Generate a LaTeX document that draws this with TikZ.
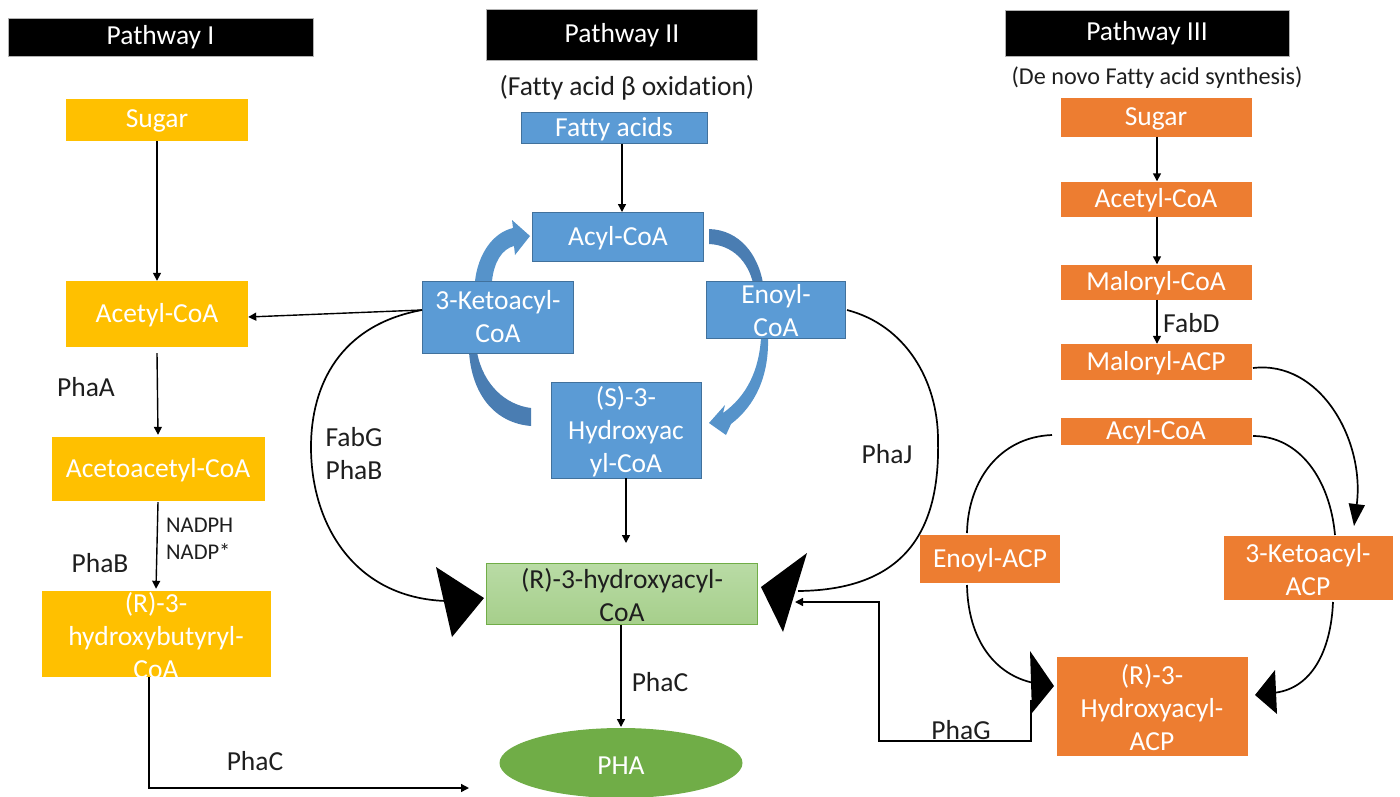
\documentclass[tikz,border=0pt]{standalone}
\usepackage{fontspec}
\setmainfont{Carlito}[Ligatures=NoCommon]
\usetikzlibrary{arrows.meta,shapes.geometric}
\definecolor{pyellow}{HTML}{FFC000}
\definecolor{pblue}{HTML}{5B9BD5}
\definecolor{pbluedark}{HTML}{41719C}
\definecolor{pband}{HTML}{4A7DB2}
\definecolor{porange}{HTML}{ED7D31}
\definecolor{pgreen}{HTML}{70AD47}
\definecolor{pgreentop}{HTML}{B9DBA5}
\definecolor{pgreenbot}{HTML}{A6CF8B}
\definecolor{ink}{HTML}{1E1E1E}
\begin{document}
\begin{tikzpicture}[x=1pt,y=-1pt,
  big/.style={font=\fontsize{27.5}{33}\selectfont},
  header/.style={fill=black, draw=gray!60, line width=0.8pt, minimum height=38pt, inner sep=0pt, text=white, big},
  ybox/.style={fill=pyellow, inner sep=0pt},
  bbox/.style={fill=pblue, draw=pbluedark, line width=0.8pt, inner sep=0pt},
  obox/.style={fill=porange, inner sep=0pt},
  wtext/.style={text=white, big, align=center, inner sep=0pt},
  enz/.style={text=ink, big, align=left, inner sep=0pt},
  conn/.style={draw=black, line width=1.4pt, -{Triangle[length=8pt,width=8pt]}},
  curve/.style={draw=black, line width=1.7pt},
  band/.style={fill=pband},
  bandlight/.style={fill=pblue!95!black}
]
\useasboundingbox (0,0) rectangle (1400,796);

% ---------- headers ----------
\node[header, minimum width=305pt] (h1) at (160.5,37.5) {Pathway I};
\node[header, minimum width=271pt, minimum height=51pt] (h2) at (622,35) {Pathway II};
\node[header, minimum width=284pt, minimum height=46pt] (h3) at (1147,33) {Pathway III};
\node[enz, align=center] (sub2) at (627,88) {(Fatty acid β oxidation)};
\node[enz, align=center, font=\fontsize{24.2}{29}\selectfont] (sub3) at (1157,78) {(De novo Fatty acid synthesis)};

% ---------- Pathway I ----------
\node[ybox, minimum width=182pt, minimum height=42pt] (sugarI) at (157,120) {};
\node[wtext] at (157,121) {Sugar};
\node[ybox, minimum width=182pt, minimum height=66pt] (acetylI) at (157,314) {};
\node[wtext] at (157,315) {Acetyl-CoA};
\node[ybox, minimum width=213pt, minimum height=64pt] (acetoI) at (158,469) {};
\node[wtext] at (158,470) {Acetoacetyl-CoA};
\node[ybox, minimum width=229pt, minimum height=86pt] (hbI) at (156,634) {};
\node[wtext] at (156,636) {(R)-3-\\hydroxybutyryl-\\CoA};

\draw[conn] (sugarI.south) -- (acetylI.north);
\draw[conn] ([yshift=-6pt]acetylI.south) -- ([yshift=2pt]acetoI.north);
\draw[conn] ([yshift=-1pt]acetoI.south) -- ([yshift=2pt]hbI.north);
\node[enz] (phaA) at (86,387) {PhaA};
\node[enz] (phaB1) at (100,563) {PhaB};
\node[enz, anchor=west, font=\fontsize{22.5}{27}\selectfont] (nadph) at (166,539) {NADPH\\NADP*};
\coordinate (phacI) at (469,788);
\draw[conn] ([xshift=-7pt]hbI.south) |- (phacI);
\node[enz] (phaC1) at (255,761) {PhaC};

% ---------- Pathway II : blue cycle bands ----------
% Keto -> Acyl (with head)
\path[bandlight] (475,281) .. controls (478,255) and (492,233) .. (513,228)
  -- (512,220) -- (530,236) -- (515,255) -- (514,246)
  .. controls (502,249) and (494,262) .. (492,281) -- cycle;
% Acyl -> Enoyl
\path[band] (709,229) .. controls (740,230) and (758,255) .. (763,283)
  -- (753,283) .. controls (748,262) and (733,245) .. (709,244) -- cycle;
% Enoyl -> (S)-3-Hydroxyacyl (with head)
\path[bandlight] (761,338) -- (768,338) .. controls (769,375) and (756,405) .. (731,424)
  -- (726,435) -- (709,423) -- (725,405) -- (723,413)
  .. controls (747,396) and (759,370) .. (761,338) -- cycle;
% (S)-3-Hydroxyacyl -> Keto
\path[band] (469,352) .. controls (472,395) and (495,423) .. (531,426)
  -- (531,408) .. controls (506,405) and (483,385) .. (477,352) -- cycle;

% ---------- Pathway II : boxes ----------
\node[bbox, minimum width=186pt, minimum height=31pt] (fatty) at (614,128) {};
\node[wtext] at (614,129) {Fatty acids};
\node[bbox, minimum width=171pt, minimum height=49pt] (acyl) at (618,237) {};
\node[wtext] at (618,238) {Acyl-CoA};
\node[bbox, minimum width=151pt, minimum height=72pt] (keto) at (498,317) {};
\node[wtext] at (keto) {3-Ketoacyl-\\CoA};
\node[bbox, minimum width=139pt, minimum height=57pt] (enoyl) at (776,310) {};
\node[wtext] at (776,311) {Enoyl-\\CoA};
\node[bbox, minimum width=150pt, minimum height=96pt] (shyd) at (626,430) {};
\node[wtext] at (626,432) {(S)-3-\\Hydroxyac\\yl-CoA};
\node[draw=pgreen, line width=0.8pt, top color=pgreentop, bottom color=pgreenbot,
      minimum width=271pt, minimum height=61pt, inner sep=0pt] (rhyd) at (622,594) {};
\node[enz, align=center] at (622,595) {(R)-3-hydroxyacyl-\\CoA};
\node[ellipse, fill=pgreen, minimum width=243pt, minimum height=70pt, inner sep=0pt] (pha) at (621,763) {};
\node[wtext] at (621,766) {PHA};

\draw[conn] ([xshift=8pt]fatty.south) -- (622,212);
\draw[conn] (shyd.south) -- (626,543);
\draw[conn] ([xshift=-1pt]rhyd.south) -- (621,727);
\node[enz] (phaC2) at (660,682) {PhaC};

% Keto -> Acetyl-CoA (Pathway I)
\coordinate (kstart) at (422,310);
\draw[conn] (kstart) -- ([yshift=-3pt]acetylI.east);
% Keto -> (R)-3-hydroxyacyl-CoA (FabG / PhaB)
\draw[curve] (kstart) .. controls (340,325) and (311,385) .. (311,447)
  .. controls (311,525) and (355,598) .. (446,601);
\fill (436,567) -- (484,598) -- (452,637) -- cycle;
\node[enz] (fabg) at (354,454) {FabG\\PhaB};
% Enoyl -> (R)-3-hydroxyacyl-CoA (PhaJ)
\coordinate (estart) at (847,310);
\draw[curve] (estart) .. controls (905,325) and (938,380) .. (938,440)
  .. controls (940,525) and (910,590) .. (798,591);
\fill (807,553) -- (761,587) -- (783,632) -- cycle;
\node[enz] (phaJ) at (887,454) {PhaJ};

% ---------- Pathway III ----------
\node[obox, minimum width=191pt, minimum height=39pt] (sugarIII) at (1156,117) {};
\node[wtext] at (1156,118.5) {Sugar};
\node[obox, minimum width=191pt, minimum height=35pt] (acetylIII) at (1156,199) {};
\node[wtext] at (1156,200) {Acetyl-CoA};
\node[obox, minimum width=191pt, minimum height=35pt] (malcoa) at (1156,282) {};
\node[wtext] at (1156,283) {Maloryl-CoA};
\node[obox, minimum width=191pt, minimum height=36pt] (malacp) at (1156,362) {};
\node[wtext] at (1156,363) {Maloryl-ACP};
\node[obox, minimum width=191pt, minimum height=27pt] (acylIII) at (1156,431) {};
\node[wtext] at (1156,432) {Acyl-CoA};
\node[obox, minimum width=140pt, minimum height=48pt] (enoylacp) at (990,559) {};
\node[wtext] at (990,560) {Enoyl-ACP};
\node[obox, minimum width=169pt, minimum height=64pt] (ketoacp) at (1308,568) {};
\node[wtext] at (1308,570) {3-Ketoacyl-\\ACP};
\node[obox, minimum width=191pt, minimum height=99pt] (hacp) at (1152,706) {};
\node[wtext] at (1152,708) {(R)-3-\\Hydroxyacyl-\\ACP};

\draw[conn] ([xshift=1pt]sugarIII.south) -- ([xshift=1pt]acetylIII.north);
\draw[conn] ([xshift=1pt]acetylIII.south) -- ([xshift=1pt]malcoa.north);
\draw[conn] ([xshift=1pt]malcoa.south) -- ([xshift=1pt]malacp.north);
\node[enz, anchor=west] (fabd) at (1163,323) {FabD};

% Maloryl-ACP -> 3-Ketoacyl-ACP
\draw[curve, -{Triangle[length=22pt,width=16pt]}] (1253,368) .. controls (1320,360) and (1365,440) .. (1354,526);
% Acyl-CoA -> 3-Ketoacyl-ACP
\draw[curve] (1253,436) .. controls (1300,436) and (1330,480) .. (1335,535);
% 3-Ketoacyl-ACP -> (R)-3-Hydroxyacyl-ACP
\draw[curve] (1333,602) .. controls (1331,650) and (1312,690) .. (1272,693);
\fill (1275,670) -- (1255,695) -- (1277,714) -- cycle;
% Acyl-CoA -> Enoyl-ACP
\draw[curve] (1052,435) .. controls (1000,437) and (968,480) .. (967,533);
% Enoyl-ACP -> (R)-3-Hydroxyacyl-ACP
\draw[curve] (967,585) .. controls (968,640) and (995,675) .. (1034,683);
\fill (1030,651) -- (1054,686) -- (1032,713) -- cycle;

% (R)-3-Hydroxyacyl-ACP -> (R)-3-hydroxyacyl-CoA (PhaG)
\coordinate (gstart) at (1031,700);
\coordinate (gend) at (795,602);
\draw[conn] (gstart) -- (1031,741) -- (879,741) -- (879,602) -- (gend);
\node[enz] (phaG) at (961,730) {PhaG};

\end{tikzpicture}
\end{document}
